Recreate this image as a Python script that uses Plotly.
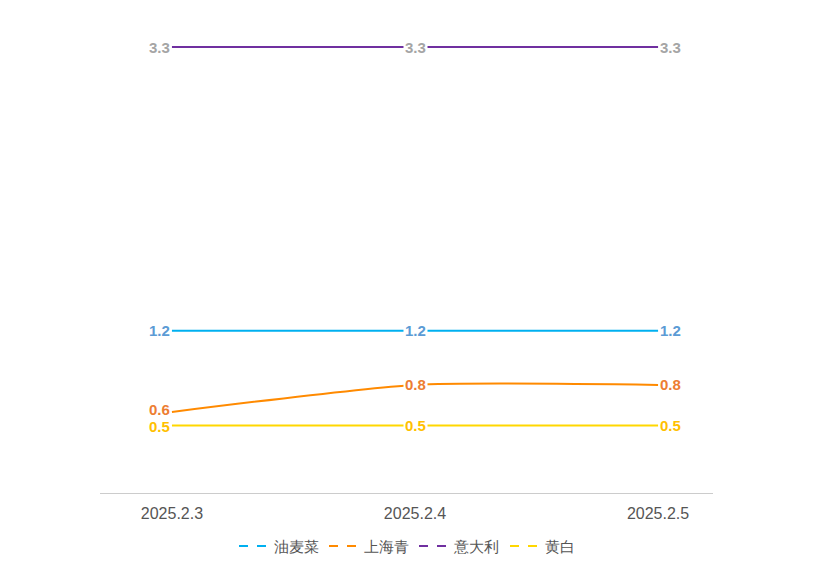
import plotly.graph_objects as go

dates = ["2025.2.3", "2025.2.4", "2025.2.5"]
names = ["油麦菜", "上海青", "意大利", "黄白"]
youmaicai = [1.2, 1.2, 1.2]
shanghaiqing = [0.6, 0.8, 0.8]
yidali = [3.3, 3.3, 3.3]
huangbai = [0.5, 0.5, 0.5]
series = [youmaicai, shanghaiqing, yidali, huangbai]

line_colors = ["#00B0F0", "#FF8A00", "#7030A0", "#FFD700"]
label_colors = ["#5B9BD5", "#ED7D31", "#A5A5A5", "#FFC000"]
first_label_yshift = [0, 2, 0, -1]

xs = list(range(len(dates)))
fig = go.Figure()

for name, vals, lc in zip(names, series, line_colors):
    fig.add_trace(go.Scatter(
        x=xs, y=vals, mode="lines", name=name,
        line=dict(color=lc, width=2, shape="spline", smoothing=0.6),
        showlegend=False, hoverinfo="skip"))
    # legend entries with dashed icons
    fig.add_trace(go.Scatter(
        x=[None], y=[None], mode="lines", name=name,
        line=dict(color=lc, width=2, dash="dash")))

for vals, tc, ys in zip(series, label_colors, first_label_yshift):
    for i, v in enumerate(vals):
        if i == 0:
            anchor, bg, xs_, pad, yshift = "right", "rgba(0,0,0,0)", -1, 0, ys
        elif i == len(vals) - 1:
            anchor, bg, xs_, pad, yshift = "left", "rgba(0,0,0,0)", 1, 0, 0
        else:
            anchor, bg, xs_, pad, yshift = "center", "white", 0, 1, 0
        fig.add_annotation(
            x=xs[i], y=v, xref="x", yref="y", text=f"<b>{v}</b>",
            showarrow=False, xanchor=anchor, yanchor="middle", xshift=xs_,
            yshift=yshift, bgcolor=bg, borderpad=pad,
            font=dict(family="Liberation Sans, Arial", size=15, color=tc))

fig.update_layout(
    width=814, height=572,
    margin=dict(l=100, r=101, t=20, b=79, autoexpand=False),
    paper_bgcolor="white", plot_bgcolor="white",
    font=dict(family="Liberation Sans, Arial", color="#555"),
    xaxis=dict(
        tickvals=xs, ticktext=dates, range=[-0.296, 2.226],
        showgrid=False, zeroline=False, showline=True, linecolor="#CCCCCC",
        linewidth=1, ticks="", tickfont=dict(size=16, color="#555"),
        ticklabelstandoff=6, automargin=False),
    yaxis=dict(range=[0, 3.5], visible=False, showgrid=False, zeroline=False,
               automargin=False),
    legend=dict(orientation="h", x=0.5, xanchor="center", xref="container",
                y=0.045, yanchor="middle", yref="container",
                font=dict(size=15, color="#555"),
                itemwidth=30, tracegroupgap=0),
    showlegend=True,
)

fig.write_html("out.html")
